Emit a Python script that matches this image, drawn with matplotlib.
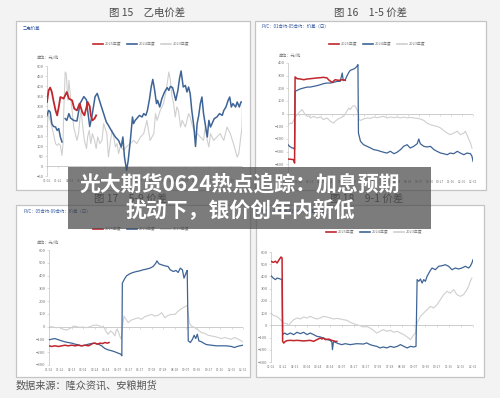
import numpy as np
import matplotlib
matplotlib.use("Agg")
import matplotlib.pyplot as plt
from matplotlib.patches import Rectangle
from matplotlib.lines import Line2D

plt.rcParams['font.family'] = ['Noto Sans CJK SC', 'DejaVu Sans']

# x = day of year, y = spread (yuan/ton)
date_labels = ["01-02", "01-22", "02-13", "03-04", "03-24", "04-14", "05-07", "05-27", "06-17",
               "07-08", "07-28", "08-18", "09-07", "09-30", "10-27", "11-16", "12-06", "12-31"]
years = ["2025年度", "2024年度", "2023年度"]

# fig 15 乙电价差
p1_2025 = [(0, 320), (3, 378), (6, 392), (9, 370), (12, 328), (16, 278), (19, 253), (22, 295), (25, 345),
           (31, 337), (34, 353), (37, 370), (41, 337), (47, 328), (51, 287), (56, 278), (61, 312), (66, 270),
           (70, 253), (74, 295), (76, 320), (80, 298), (82, 253), (85, 228), (89, 237), (92, 253)]
p1_2024 = [(0, 253), (3, 278), (6, 270), (9, 212), (12, 198), (16, 195), (19, 178), (22, 187), (25, 145),
           (28, 120), (30, np.nan), (34, 237), (37, 228), (41, 262), (44, 240), (50, 228), (56, 225), (62, 313),
           (69, 347), (74, 330), (76, 280), (80, 197), (84, 247), (90, 347), (94, 363), (100, 312), (106, 262),
           (111, 220), (115, 203), (122, 170), (128, 145), (134, 128), (139, 95), (142, 145), (145, 45),
           (149, -22), (152, 28), (156, 128), (160, 245), (162, 212), (165, 228), (168, 237), (173, 253),
           (178, 245), (181, 262), (185, 253), (188, 278), (192, 337), (195, 395), (198, 433), (201, 387),
           (205, 312), (207, 328), (211, 295), (215, 337), (220, 370), (225, 392), (228, 378), (231, 398),
           (235, 392), (238, 362), (241, 328), (245, 378), (248, 437), (251, 475), (255, 395), (259, 403),
           (262, 370), (265, 395), (268, 362), (271, 278), (275, 195), (278, 98), (281, 212), (284, 253),
           (287, 312), (290, 345), (293, 262), (296, 212), (300, 145), (303, 228), (306, 195), (309, 212),
           (313, 237), (318, 245), (323, 262), (328, 253), (331, 278), (335, 295), (339, 328), (342, 345),
           (345, 295), (348, 312), (353, 295), (356, 320), (360, 295), (363, 320), (365, 320)]
p1_2023 = [(0, 153), (2, 262), (6, 228), (9, 195), (12, 162), (16, 112), (19, 103), (22, 112), (25, 103),
           (28, 53), (30, 112), (31, 245), (34, 470), (36, 462), (39, 328), (41, 428), (44, 345), (47, 278),
           (50, 195), (53, 162), (56, 128), (59, 162), (62, 245), (64, 278), (67, 195), (70, 128), (74, 87),
           (76, 145), (79, 178), (82, 112), (85, 162), (89, 128), (92, 87), (95, 145), (99, 112), (103, 128),
           (106, 212), (109, 187), (112, 162), (115, 45), (119, 128), (122, 178), (125, 145), (128, 95),
           (131, 112), (134, 62), (137, 95), (144, 80), (150, 100), (156, 112), (162, 128), (168, 112),
           (175, 145), (181, 162), (187, 228), (193, 128), (200, 162), (203, 262), (206, 228), (212, 278),
           (218, 312), (222, 362), (225, 412), (228, 470), (231, 428), (234, 345), (237, 312), (240, 245),
           (243, 295), (246, 278), (250, 195), (253, 228), (256, 212), (259, 195), (262, 228), (265, 262),
           (268, 245), (271, 212), (275, 178), (281, 162), (287, 145), (293, 128), (296, 195), (300, 128),
           (303, 95), (306, 162), (312, 128), (318, 145), (324, 162), (331, 128), (337, 195), (343, 162),
           (349, 112), (356, 45), (359, 62), (362, 128), (365, 195), (366, 328)]

# fig 16 1-5 价差
p2_2025 = [(0, -358), (5, -360), (11, -363), (13, -390), (14, 290), (18, 276), (24, 274), (31, 268), (38, 274),
           (44, 276), (51, 279), (57, 282), (64, 284), (70, 287), (77, 282), (80, 268), (84, 255), (87, 247),
           (93, 268), (100, 263), (107, 268), (113, 263)]
p2_2024 = [(0, -245), (3, -258), (8, -271), (11, -271), (13, -284), (14, 176), (18, 184), (24, 195), (31, 203),
           (38, 210), (44, 210), (51, 216), (57, 221), (64, 229), (70, 237), (77, 242), (84, 242), (90, 247),
           (97, 255), (103, 255), (107, 321), (109, 261), (113, 268), (116, 295), (120, 326), (123, 342),
           (126, 347), (130, 353), (133, 361), (136, 374), (138, 387), (139, -153), (143, -218), (149, -245),
           (156, -258), (163, -271), (169, -284), (176, -289), (182, -297), (189, -305), (195, -311),
           (202, -297), (209, -316), (215, -305), (222, -284), (228, -258), (235, -245), (241, -271),
           (248, -258), (255, -237), (258, -200), (261, -237), (268, -258), (274, -263), (281, -258),
           (288, -284), (294, -297), (301, -311), (307, -316), (314, -324), (320, -311), (327, -316),
           (334, -297), (340, -311), (347, -324), (353, -311), (360, -316), (363, -337), (365, -376)]
p2_2023 = [(0, -87), (5, -74), (8, -79), (11, -53), (14, -26), (18, -8), (21, 5), (24, 18), (28, 32), (31, 11),
           (34, -8), (38, -21), (41, -16), (44, -34), (51, -21), (57, -34), (64, -26), (70, -47), (77, -34),
           (84, -61), (90, -74), (93, -61), (97, -47), (103, -34), (110, -21), (116, 18), (120, 45), (123, 32),
           (126, 53), (130, 63), (133, 58), (136, 32), (139, 5), (140, -47), (143, -53), (149, -42),
           (156, -34), (163, -37), (169, -26), (176, -32), (182, -26), (189, -21), (195, -34), (202, -26),
           (209, -32), (215, -26), (222, -34), (228, -26), (235, -34), (241, -29), (248, -34), (255, -37),
           (261, -42), (268, -53), (274, -74), (281, -87), (288, -95), (294, -100), (301, -113), (307, -132),
           (314, -153), (320, -166), (327, -153), (334, -139), (340, -166), (347, -153), (350, -139),
           (353, -166), (357, -205), (360, -232), (363, -271)]

# fig 17 5-9 价差
p3_2025 = [(0, -150), (5, -155), (11, -150), (18, -155), (24, -150), (30, -145), (36, -150), (43, -145),
           (49, -150), (55, -145), (61, -150), (68, -145), (74, -150), (78, -142), (82, -132), (86, -129),
           (91, -137), (96, -129), (101, -132), (105, -124), (110, -129), (113, -124)]
p3_2024 = [(0, -103), (5, -98), (11, -93), (18, -103), (24, -111), (30, -119), (36, -124), (43, -129),
           (49, -137), (55, -142), (61, -150), (68, -145), (74, -137), (80, -132), (86, -129), (93, -137),
           (99, -150), (105, -171), (111, -181), (118, -189), (124, -197), (130, -207), (135, -215),
           (137, -228), (138, 341), (143, 380), (146, 398), (152, 414), (158, 424), (165, 432), (171, 437),
           (177, 445), (183, 450), (190, 458), (196, 471), (201, 497), (203, 515), (207, 491), (212, 484),
           (218, 476), (224, 471), (228, 445), (234, 432), (239, 440), (243, 424), (247, 458), (251, 445),
           (254, 380), (259, 432), (260, 440), (262, -111), (266, -124), (270, -98), (273, -67), (276, -93),
           (279, -59), (282, -111), (287, -119), (291, -129), (296, -140), (305, -145), (315, -150),
           (324, -150), (334, -150), (343, -155), (349, -163), (354, -155), (359, -150), (365, -145)]
p3_2023 = [(0, 0), (8, -3), (14, -8), (21, -5), (27, -21), (33, -26), (39, -16), (46, 5), (52, 0), (58, -5),
           (64, -3), (71, -8), (77, 0), (83, 10), (90, 13), (96, 5), (99, -8), (102, 5), (107, -34),
           (111, -59), (116, -34), (120, -47), (124, -72), (127, -21), (130, -34), (133, -72), (136, -98),
           (138, -8), (141, 83), (145, 57), (149, 31), (155, 52), (162, 62), (168, 70), (174, 57), (180, 78),
           (187, 88), (193, 96), (199, 83), (205, 88), (212, 109), (218, 70), (224, 88), (230, 96), (237, 96),
           (243, 122), (249, 140), (255, 155), (260, 166), (262, 96), (264, 31), (268, 5), (274, -8),
           (280, -26), (287, -47), (293, -52), (299, -67), (305, -72), (312, -78), (318, -85), (324, -93),
           (331, -85), (337, -93), (343, -98), (349, -85), (356, -98), (362, -111), (365, -119)]

# fig 18 9-1 价差
p4_2025 = [(0, 524), (4, 515), (8, 524), (11, 510), (14, 532), (18, 559), (20, 551), (21, -131), (23, -145),
           (26, -131), (29, -125), (35, -123), (41, -125), (47, -123), (53, -125), (59, -128), (65, -125),
           (71, -123), (77, -131), (83, -117), (89, -104), (92, -112), (95, -104), (98, -117), (104, -112),
           (110, -123), (116, -131), (119, -131)]
p4_2024 = [(0, 406), (4, 387), (8, 374), (11, 387), (17, 379), (20, 374), (21, -76), (25, -63), (29, -76),
           (35, -63), (41, -76), (47, -57), (53, -68), (59, -57), (65, -76), (71, -63), (77, -76), (83, -90),
           (89, -95), (95, -104), (101, -117), (107, -123), (110, -139), (111, -199), (113, -131), (116, -139),
           (122, -150), (128, -158), (134, -150), (143, -158), (155, -150), (167, -153), (173, -144),
           (179, -158), (185, -166), (191, -172), (197, -185), (203, -177), (209, -185), (216, -172),
           (222, -180), (228, -172), (234, -158), (240, -172), (246, -185), (252, -172), (258, -177),
           (262, -172), (264, 374), (267, 360), (270, 379), (273, 346), (276, 374), (279, 360), (282, 401),
           (287, 442), (291, 469), (297, 455), (303, 483), (309, 488), (315, 496), (321, 483), (327, 455),
           (333, 469), (339, 461), (345, 469), (351, 483), (357, 469), (360, 483), (363, 510), (365, 537)]
p4_2023 = [(0, 101), (5, 79), (10, 74), (14, 60), (18, 41), (23, 19), (29, 14), (32, -3), (35, 19), (41, 46),
           (47, 60), (53, 52), (59, 68), (65, 60), (71, 74), (77, 60), (83, 52), (89, 60), (95, 74), (101, 68),
           (107, 60), (113, 52), (119, 57), (125, 52), (131, 46), (137, 41), (143, 25), (149, 14), (155, 5),
           (161, -3), (167, -14), (173, -8), (179, -22), (185, -41), (191, -63), (197, -49), (203, -35),
           (209, -49), (216, -41), (222, -57), (228, -49), (234, -63), (240, -76), (246, -95), (252, -117),
           (256, -90), (261, -63), (264, 19), (267, 46), (270, 74), (276, 101), (282, 128), (288, 155),
           (294, 142), (300, 169), (306, 210), (312, 251), (318, 278), (324, 264), (330, 292), (336, 251),
           (342, 237), (348, 251), (354, 292), (357, 319), (360, 360), (363, 387)]

RED, BLUE, GRAY = '#c0262d', '#3e6496', '#cfcfcf'
EDGE, TXT = '#c4c4c4', '#777777'

fig = plt.figure(figsize=(5, 3.98), dpi=100, facecolor='#f3f3f3')


def fx(px):
    return px / 500


def fy(py):
    return 1 - py / 398


# white panel boxes
for x0, y0, x1, y1 in [(16, 21, 250, 190), (255, 21, 486, 190), (16, 205, 250, 377), (256, 205, 484, 377)]:
    fig.add_artist(Rectangle((fx(x0), fy(y1)), fx(x1 - x0), (y1 - y0) / 398, transform=fig.transFigure,
                             facecolor='white', edgecolor=EDGE, lw=0.9, zorder=-5))

panels = [
    dict(rect=(47, 66, 242, 176), ylim=(-50, 500), step=50, data=(p1_2025, p1_2024, p1_2023),
         title="图 15　乙电价差", tpos=(147, 13), name="乙电价差", npos=(23, 28), unit=(37, 57),
         leg=(141, 44), lw=1.1),
    dict(rect=(288, 63, 473, 177), ylim=(-500, 400), step=100, data=(p2_2025, p2_2024, p2_2023),
         title="图 16　1-5 价差", tpos=(371, 13), name="PVC：01合约-05合约：价差（日）", npos=(262, 26),
         unit=(279, 55), leg=(377, 44), lw=0.9, vline=(-500, 0)),
    dict(rect=(49, 250, 243, 365), ylim=(-300, 600), step=100, data=(p3_2025, p3_2024, p3_2023),
         title="图 17　5-9 价差", tpos=(131, 199), name="PVC：05合约-09合约：价差（日）", npos=(23, 211),
         unit=(37, 242), leg=(141, 229), lw=0.9),
    dict(rect=(271, 252, 473, 362), ylim=(-300, 600), step=100, data=(p4_2025, p4_2024, p4_2023),
         title="图 18　9-1 价差", tpos=(367, 199), name="PVC：09合约-01合约：价差（日）", npos=(262, 211),
         unit=None, leg=(374, 232), lw=0.9, vline=(-300, 600)),
]

xt = np.linspace(0, 365, len(date_labels))

for p in panels:
    x0, y0, x1, y1 = p['rect']
    ax = fig.add_axes([fx(x0), fy(y1), fx(x1 - x0), (y1 - y0) / 398])
    ax.set_facecolor('none')
    lo, hi = p['ylim']
    ax.set_xlim(0, 365)
    ax.set_ylim(lo, hi)
    ax.set_yticks(np.arange(lo, hi + 1, p['step']))
    for s in ['top', 'right', 'bottom']:
        ax.spines[s].set_visible(False)
    ax.spines['left'].set_color(EDGE)
    ax.spines['left'].set_linewidth(0.5)
    ax.tick_params(axis='y', labelsize=3, labelcolor=TXT, color=EDGE, length=1.5, width=0.4, pad=1)
    ax.set_xticks(xt)
    ax.set_xticklabels(date_labels)
    ax.tick_params(axis='x', labelsize=2.3, labelcolor=TXT, length=0, pad=2.5)
    ax.axhline(0, color=EDGE, lw=0.6, zorder=1)
    # small tick marks along the zero line
    sec = ax.secondary_xaxis((0 - lo) / (hi - lo))
    sec.xaxis.set_ticks_position('bottom')
    sec.set_xticks(xt)
    sec.set_xticklabels([''] * len(xt))
    sec.tick_params(direction='out', length=1.5, width=0.4, color=EDGE,
                    labelbottom=False, labeltop=False)
    for s in sec.spines.values():
        s.set_visible(False)
    if 'vline' in p:
        ax.plot([365, 365], list(p['vline']), color=EDGE, lw=0.6, zorder=1)

    d25, d24, d23 = [np.array(d, dtype=float) for d in p['data']]
    ax.plot(d23[:, 0], d23[:, 1], color=GRAY, lw=0.8, zorder=2)
    ax.plot(d24[:, 0], d24[:, 1], color=BLUE, lw=p['lw'], zorder=3)
    ax.plot(d25[:, 0], d25[:, 1], color=RED, lw=p['lw'] + 0.2, zorder=4)

    handles = [Line2D([], [], color=c, lw=1.2) for c in (RED, BLUE, GRAY)]
    ax.legend(handles, years, loc='center', bbox_to_anchor=(fx(p['leg'][0]), fy(p['leg'][1])),
              bbox_transform=fig.transFigure, ncol=3, frameon=False, fontsize=2.8,
              handlelength=2.6, handletextpad=0.4, columnspacing=1.4, labelcolor=TXT)

    fig.text(fx(p['tpos'][0]), fy(p['tpos'][1]), p['title'], ha='center', va='center',
             fontsize=7.5, color='#4a4a4a')
    fig.text(fx(p['npos'][0]), fy(p['npos'][1]), p['name'], ha='left', va='center',
             fontsize=3.2, color='#2f55a0')
    if p['unit']:
        fig.text(fx(p['unit'][0]), fy(p['unit'][1]), "单位：元/吨", ha='left', va='center',
                 fontsize=3, color=TXT)

fig.text(fx(16), fy(385), "数据来源：隆众资讯、安粮期货", ha='left', va='center', fontsize=7.3, color='#555555')

# headline banner
fig.add_artist(Rectangle((fx(68), fy(229)), fx(431 - 68), (229 - 167) / 398, transform=fig.transFigure,
                         facecolor='#4a4a4a', alpha=0.72, lw=0, zorder=10))
fig.text(fx(240), fy(184), "光大期货0624热点追踪：加息预期", ha='center', va='center',
         fontsize=15, fontweight='bold', color='white', zorder=11)
fig.text(fx(240), fy(211), "扰动下，银价创年内新低", ha='center', va='center',
         fontsize=15, fontweight='bold', color='white', zorder=11)

fig.savefig("out.png", dpi=100, facecolor=fig.get_facecolor())
